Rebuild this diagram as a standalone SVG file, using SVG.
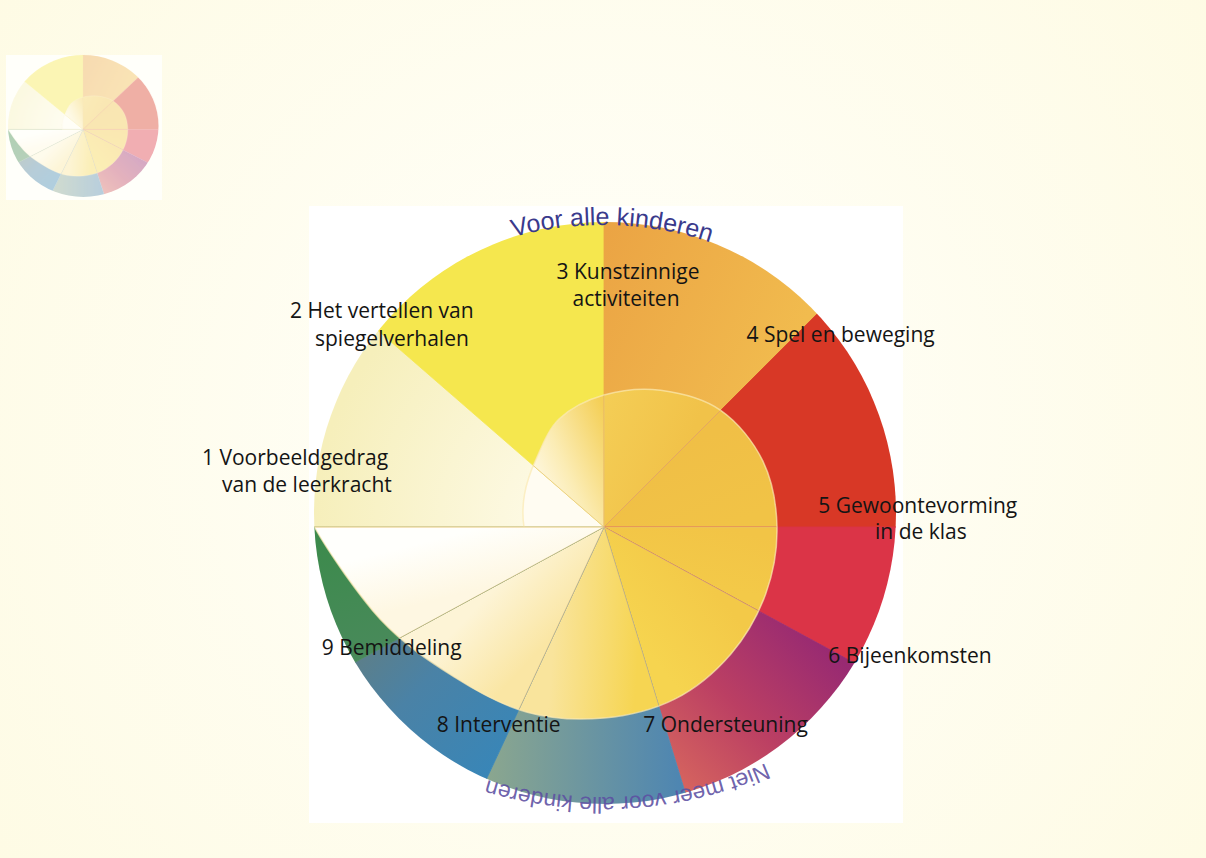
<svg xmlns="http://www.w3.org/2000/svg" width="1206" height="858" viewBox="0 0 1206 858">
<style>
.lbl{font-family:"Open Sans","Liberation Sans",sans-serif;font-size:21px;fill:#141414}
.arcTop{font-family:"Liberation Sans","DejaVu Sans",sans-serif;font-size:25px;fill:#3a3a8c}
.arcBot{font-family:"Liberation Sans","DejaVu Sans",sans-serif;font-size:23px;fill:#5d50a2;fill-opacity:0.9}
.spoke{stroke:#e2be80;stroke-opacity:0.6;stroke-width:1;fill:none}
.band{stroke-width:0.8}
</style>
<defs>
<radialGradient id="bg" cx="600" cy="430" r="760" gradientUnits="userSpaceOnUse">
<stop offset="0" stop-color="#fffffb"/><stop offset="1" stop-color="#fefbe4"/>
</radialGradient>
<filter id="soft" x="-10%" y="-10%" width="120%" height="120%"><feGaussianBlur stdDeviation="3"/></filter>
<clipPath id="outerClip"><circle cx="605" cy="513" r="291"/></clipPath>
<path id="spiral" d="M604,527 L524,527 C522.46,516.66 522.53,505.40 524.55,494.09 C526.57,482.78 530.34,471.65 536.12,459.12 C541.90,446.59 547.92,429.60 559.23,418.91 C570.54,408.22 587.10,399.77 604,395 C620.90,390.23 641.19,387.71 660.64,390.27 C680.09,392.83 703.62,398.51 720.67,410.33 C737.72,422.15 753.52,441.73 762.91,461.18 C772.30,480.63 776.54,504.87 777,527 C777.46,549.13 773.36,572.81 765.68,593.97 C758.00,615.13 746.01,636.45 730.93,653.93 C715.85,671.41 696.34,688.16 675.18,698.84 C654.02,709.52 628.65,715.77 604,718 C579.35,720.23 552.26,719.09 527.27,712.24 C502.28,705.39 478.57,692.35 454.09,676.91 C429.61,661.47 403.70,644.60 380.42,619.61 C360,597 328,552 314.4,527 Z"/>
<clipPath id="innerClip"><use href="#spiral"/></clipPath>
<radialGradient id="gBand1" cx="604" cy="527" r="290" gradientUnits="userSpaceOnUse">
<stop offset="0" stop-color="#fffdf0"/><stop offset="0.35" stop-color="#fcf8de"/><stop offset="1" stop-color="#f6efbb"/>
</radialGradient>
<linearGradient id="gBand3" x1="604" y1="235" x2="800" y2="330" gradientUnits="userSpaceOnUse">
<stop offset="0" stop-color="#eba444"/><stop offset="1" stop-color="#f1bb4e"/>
</linearGradient>
<linearGradient id="gBand6" x1="680" y1="800" x2="830" y2="650" gradientUnits="userSpaceOnUse">
<stop offset="0" stop-color="#d8685e"/><stop offset="0.5" stop-color="#bb3f63"/><stop offset="1" stop-color="#982a72"/>
</linearGradient>
<linearGradient id="gBand7" x1="490" y1="780" x2="690" y2="780" gradientUnits="userSpaceOnUse">
<stop offset="0" stop-color="#8aa68f"/><stop offset="1" stop-color="#4b84b3"/>
</linearGradient>
<linearGradient id="gBand8" x1="350" y1="650" x2="490" y2="780" gradientUnits="userSpaceOnUse">
<stop offset="0" stop-color="#5f7e85"/><stop offset="0.4" stop-color="#4a82a6"/><stop offset="1" stop-color="#3886b8"/>
</linearGradient>
<linearGradient id="gBand9" x1="320" y1="540" x2="360" y2="670" gradientUnits="userSpaceOnUse">
<stop offset="0" stop-color="#3c8a4c"/><stop offset="1" stop-color="#4a8a5c"/>
</linearGradient>
<linearGradient id="gIn2" x1="513.4" y1="448.3" x2="604" y2="407" gradientUnits="userSpaceOnUse">
<stop offset="0" stop-color="#fffaea"/><stop offset="0.4" stop-color="#fbecb4"/><stop offset="1" stop-color="#f4cf56"/>
</linearGradient>
<linearGradient id="gIn3" x1="604" y1="407" x2="688.9" y2="442.1" gradientUnits="userSpaceOnUse">
<stop offset="0" stop-color="#f4cd55"/><stop offset="1" stop-color="#f1c249"/>
</linearGradient>
<linearGradient id="gIn4" x1="688.9" y1="442.1" x2="724" y2="527" gradientUnits="userSpaceOnUse">
<stop offset="0" stop-color="#f0bf46"/><stop offset="1" stop-color="#f1c346"/>
</linearGradient>
<linearGradient id="gIn5" x1="724" y1="527" x2="709.5" y2="584.3" gradientUnits="userSpaceOnUse">
<stop offset="0" stop-color="#f2c446"/><stop offset="1" stop-color="#f3c948"/>
</linearGradient>
<linearGradient id="gIn6" x1="709.5" y1="584.3" x2="639.1" y2="641.8" gradientUnits="userSpaceOnUse">
<stop offset="0" stop-color="#f3c948"/><stop offset="1" stop-color="#f6d44f"/>
</linearGradient>
<linearGradient id="gIn7" x1="639.1" y1="641.8" x2="553.3" y2="635.8" gradientUnits="userSpaceOnUse">
<stop offset="0" stop-color="#f6d552"/><stop offset="1" stop-color="#f9e49c"/>
</linearGradient>
<linearGradient id="gIn8" x1="553.3" y1="635.8" x2="498.5" y2="584.3" gradientUnits="userSpaceOnUse">
<stop offset="0" stop-color="#fae6a4"/><stop offset="1" stop-color="#fdf4d6"/>
</linearGradient>
<linearGradient id="gIn9" x1="498.5" y1="584.3" x2="484" y2="527" gradientUnits="userSpaceOnUse">
<stop offset="0" stop-color="#fef7e2"/><stop offset="1" stop-color="#fffffc"/>
</linearGradient>
<path id="arcTopPath" d="M263,565 A340 340 0 0 1 943,565"/>
<path id="arcBotPath" d="M1004,397 A400 400 0 0 1 204,397"/>
</defs>

<rect x="0" y="0" width="1206" height="858" fill="url(#bg)"/>
<rect x="6" y="55" width="156" height="145" fill="#fffffa"/>
<rect x="309" y="206" width="594" height="617" fill="#ffffff"/>

<g id="wheel" clip-path="url(#outerClip)">
<g id="seg1">
<path class="band" fill="url(#gBand1)" stroke="url(#gBand1)" d="M604,527 L204,527 A400 400 0 0 1 302.1,264.6 Z"/>
<path clip-path="url(#innerClip)" fill="#fffcf2" d="M604,527 L204,527 A400 400 0 0 1 302.1,264.6 Z"/>
</g>
<g id="seg2">
<path class="band" fill="#f5e74e" stroke="#f5e74e" d="M604,527 L302.1,264.6 A400 400 0 0 1 604,127 Z"/>
<path clip-path="url(#innerClip)" fill="url(#gIn2)" d="M604,527 L302.1,264.6 A400 400 0 0 1 604,127 Z"/>
</g>
<g id="seg3">
<path class="band" fill="url(#gBand3)" stroke="url(#gBand3)" d="M604,527 L604,127 A400 400 0 0 1 886.8,244.2 Z"/>
<path clip-path="url(#innerClip)" fill="url(#gIn3)" d="M604,527 L604,127 A400 400 0 0 1 886.8,244.2 Z"/>
</g>
<g id="seg4">
<path class="band" fill="#d83826" stroke="#d83826" d="M604,527 L886.8,244.2 A400 400 0 0 1 1004,527 Z"/>
<path clip-path="url(#innerClip)" fill="url(#gIn4)" d="M604,527 L886.8,244.2 A400 400 0 0 1 1004,527 Z"/>
</g>
<g id="seg5">
<path class="band" fill="#db3447" stroke="#db3447" d="M604,527 L1004,527 A400 400 0 0 1 955.5,717.9 Z"/>
<path clip-path="url(#innerClip)" fill="url(#gIn5)" d="M604,527 L1004,527 A400 400 0 0 1 955.5,717.9 Z"/>
</g>
<g id="seg6">
<path class="band" fill="url(#gBand6)" stroke="url(#gBand6)" d="M604,527 L955.5,717.9 A400 400 0 0 1 721,909.5 Z"/>
<path clip-path="url(#innerClip)" fill="url(#gIn6)" d="M604,527 L955.5,717.9 A400 400 0 0 1 721,909.5 Z"/>
</g>
<g id="seg7">
<path class="band" fill="url(#gBand7)" stroke="url(#gBand7)" d="M604,527 L721,909.5 A400 400 0 0 1 435,889.5 Z"/>
<path clip-path="url(#innerClip)" fill="url(#gIn7)" d="M604,527 L721,909.5 A400 400 0 0 1 435,889.5 Z"/>
</g>
<g id="seg8">
<path class="band" fill="url(#gBand8)" stroke="url(#gBand8)" d="M604,527 L435,889.5 A400 400 0 0 1 252.5,717.9 Z"/>
<path clip-path="url(#innerClip)" fill="url(#gIn8)" d="M604,527 L435,889.5 A400 400 0 0 1 252.5,717.9 Z"/>
</g>
<g id="seg9">
<path class="band" fill="url(#gBand9)" stroke="url(#gBand9)" d="M604,527 L252.5,717.9 A400 400 0 0 1 204,527 Z"/>
<path clip-path="url(#innerClip)" fill="url(#gIn9)" d="M604,527 L252.5,717.9 A400 400 0 0 1 204,527 Z"/>
</g>
<use href="#spiral" fill="none" stroke="#fbe9b4" stroke-width="1.5" stroke-opacity="0.7"/>
<g id="spokes" clip-path="url(#innerClip)">
<path class="spoke" d="M604,527 L302.1,264.6"/>
<path class="spoke" d="M604,527 L604,127"/>
<path class="spoke" d="M604,527 L886.8,244.2"/>
<path class="spoke" d="M604,527 L1004,527"/>
<path class="spoke" d="M604,527 L955.5,717.9"/>
<path class="spoke" d="M604,527 L721,909.5"/>
<path class="spoke" d="M604,527 L435,889.5"/>
<path class="spoke" d="M604,527 L252.5,717.9"/>
</g>
<path class="spoke" d="M314.4,527 L604,527"/>
</g>

<use id="thumbnail" href="#wheel" transform="translate(-73.2,0.8) scale(0.2586,0.244)" opacity="0.4" filter="url(#soft)"/>

<g id="arc-labels">
<text class="arcTop"><textPath href="#arcTopPath" startOffset="543" text-anchor="middle">Voor alle kinderen</textPath></text>
<text class="arcBot"><textPath href="#arcBotPath" startOffset="604" text-anchor="middle" textLength="285">Niet meer voor alle kinderen</textPath></text>
</g>

<g id="labels">
<g id="label1"><text class="lbl" x="202" y="465">1 Voorbeeldgedrag</text><text class="lbl" x="222" y="492">van de leerkracht</text></g>
<g id="label2"><text class="lbl" x="290" y="318">2 Het vertellen van</text><text class="lbl" x="315" y="345.5">spiegelverhalen</text></g>
<g id="label3"><text class="lbl" x="556.5" y="279">3 Kunstzinnige</text><text class="lbl" x="572.5" y="306">activiteiten</text></g>
<g id="label4"><text class="lbl" x="746.5" y="341.5">4 Spel en beweging</text></g>
<g id="label5"><text class="lbl" x="818.3" y="513">5 Gewoontevorming</text><text class="lbl" x="875" y="538.5">in de klas</text></g>
<g id="label6"><text class="lbl" x="828.3" y="663">6 Bijeenkomsten</text></g>
<g id="label7"><text class="lbl" x="643.3" y="731.5">7 Ondersteuning</text></g>
<g id="label8"><text class="lbl" x="436.7" y="731.5">8 Interventie</text></g>
<g id="label9"><text class="lbl" x="321.7" y="655">9 Bemiddeling</text></g>
</g>
</svg>
